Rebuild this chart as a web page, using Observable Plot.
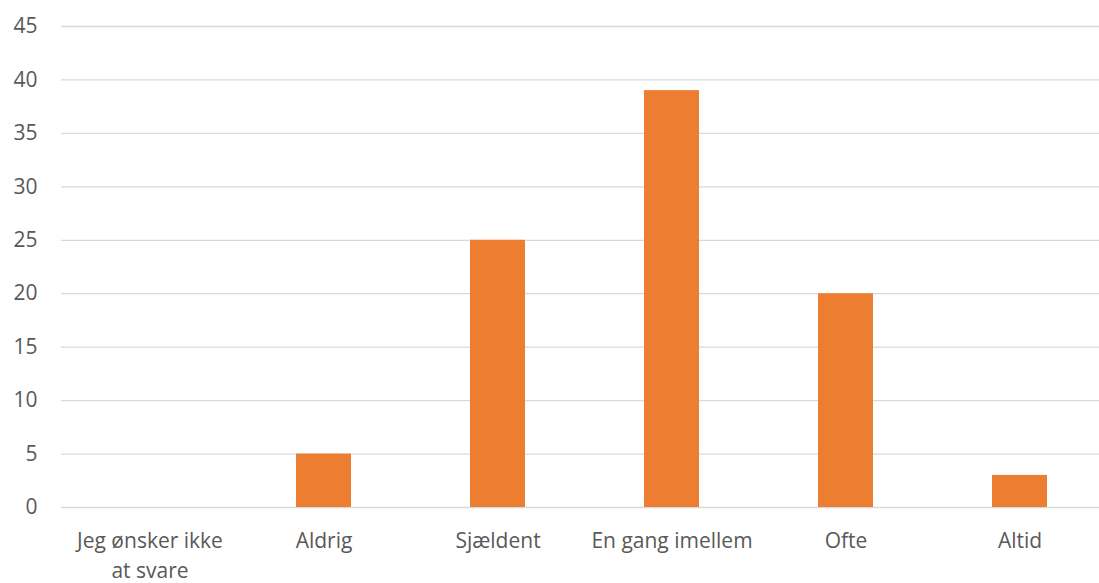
<!DOCTYPE html>
<html>
<head>
<meta charset="utf-8">
<script src="https://cdn.jsdelivr.net/npm/d3@7"></script>
<script src="https://cdn.jsdelivr.net/npm/@observablehq/plot@0.6"></script>
<style>
  html, body { margin: 0; padding: 0; background: #fff; overflow: hidden; }
  #chart svg { display: block; }
</style>
</head>
<body>
<div id="chart"></div>
<script>
const categories = ["Jeg ønsker ikke at svare", "Aldrig", "Sjældent", "En gang imellem", "Ofte", "Altid"];
const values = [0, 5, 25, 39, 20, 3];
const yTicks = [0, 5, 10, 15, 20, 25, 30, 35, 40, 45];
const tickLabels = {"Jeg ønsker ikke at svare": "Jeg ønsker ikke\nat svare"};

const data = categories.map((c, i) => ({category: c, value: values[i]}));

const chart = Plot.plot({
  width: 1099,
  height: 583,
  marginLeft: 61,
  marginRight: -8,
  marginTop: 26,
  marginBottom: 76,
  style: {fontFamily: "'Open Sans', sans-serif", fontSize: "21px", color: "#595959", background: "#fff", overflow: "hidden"},
  x: {domain: categories, paddingInner: 0.684, paddingOuter: 0.342, label: null},
  y: {domain: [0, 45], label: null},
  marks: [
    Plot.gridY(yTicks, {stroke: "#d9d9d9", strokeOpacity: 1, strokeWidth: 1.3}),
    Plot.barY(data, {x: "category", y: "value", fill: "#ED7D31"}),
    Plot.axisY(yTicks, {tickSize: 0, tickPadding: 24, fontSize: 21, fill: "#595959"}),
    Plot.axisX({tickSize: 0, tickPadding: 20, fontSize: 21, fill: "#595959", tickFormat: d => tickLabels[d] ?? d, lineHeight: 1.4})
  ]
});
document.getElementById("chart").appendChild(chart);
</script>
</body>
</html>
